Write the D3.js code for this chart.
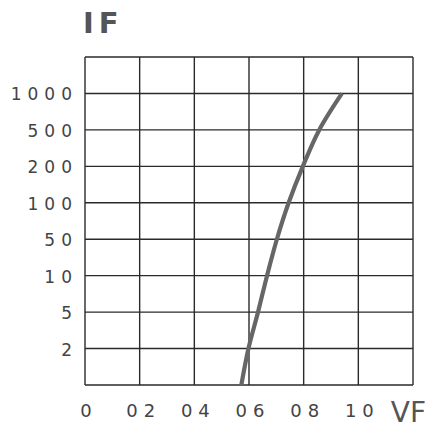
<!DOCTYPE html>
<html>
<head>
<meta charset="utf-8">
<script src="https://cdn.jsdelivr.net/npm/d3@7"></script>
<style>
	body { margin: 0; background: #fff; }
	text { font-family: "DejaVu Sans", sans-serif; }
</style>
</head>
<body>
<div id="chart"></div>
<script>
"use strict";

// forward current IF (rows of the grid, top to bottom; 1 = bottom edge, unlabeled)
var ifRows = [1000, 500, 200, 100, 50, 10, 5, 2, 1];
var ifLabels = ["1000", "500", "200", "100", "50", "10", "5", "2"];

// forward voltage VF ticks
var vfTicks = [0, 0.2, 0.4, 0.6, 0.8, 1.0];
var vfLabels = ["0", "02", "04", "06", "08", "10"];

// the curve (top to bottom)
var curveIF = [1000, 500, 200, 100, 50, 10, 5, 2, 1];
var curveVF = [0.94, 0.857, 0.797, 0.745, 0.702, 0.666, 0.633, 0.598, 0.572];

var width = 429, height = 429;
var grid_color = "#2a2a2a";
var label_color = "#444";
var curve_color = "#666";

var svg = d3.select("#chart").append("svg")
	.attr("width", width).attr("height", height);

var x = d3.scaleLinear().domain([0, 1.2]).range([85, 413]);
// row 0 is the top edge, row i+1 is ifRows[i]
var row = d3.scaleLinear().domain([0, ifRows.length]).range([57, 385]);
function y_of(v){ return row(ifRows.indexOf(v) + 1); }

// vertical grid lines
svg.append("g").selectAll("line")
	.data(d3.range(0, 1.2001, 0.2))
	.enter().append("line")
	.attr("x1", function(d){ return x(d); })
	.attr("x2", function(d){ return x(d); })
	.attr("y1", row(0)).attr("y2", row(ifRows.length))
	.attr("stroke", grid_color).attr("stroke-width", 1.4);

// horizontal grid lines
svg.append("g").selectAll("line")
	.data(d3.range(0, ifRows.length + 1))
	.enter().append("line")
	.attr("x1", x(0)).attr("x2", x(1.2))
	.attr("y1", function(d){ return row(d); })
	.attr("y2", function(d){ return row(d); })
	.attr("stroke", grid_color).attr("stroke-width", 1.4);

// y labels
svg.append("g").selectAll("text")
	.data(ifLabels)
	.enter().append("text")
	.attr("x", 72 + 6)
	.attr("y", function(d){ return y_of(+d) + 7; })
	.attr("text-anchor", "end")
	.attr("font-size", 17)
	.attr("letter-spacing", 6)
	.attr("fill", label_color)
	.text(function(d){ return d; });

// x labels
svg.append("g").selectAll("text")
	.data(vfTicks)
	.enter().append("text")
	.attr("x", function(d){ return x(d) + 4; })
	.attr("y", 417)
	.attr("text-anchor", "middle")
	.attr("font-size", 18)
	.attr("letter-spacing", 6)
	.attr("fill", label_color)
	.text(function(d, i){ return vfLabels[i]; });

// axis titles
svg.append("text")
	.attr("x", 83).attr("y", 33)
	.attr("font-size", 29)
	.attr("font-weight", "bold")
	.attr("letter-spacing", 5)
	.attr("fill", "#555")
	.text("IF");

svg.append("text")
	.attr("x", 426).attr("y", 422)
	.attr("text-anchor", "end")
	.attr("font-size", 28)
	.attr("fill", "#555")
	.text("VF");

// the curve
var pts = curveIF.map(function(v, i){ return [curveVF[i], v]; });
var line = d3.line()
	.x(function(d){ return x(d[0]); })
	.y(function(d){ return y_of(d[1]); })
	.curve(d3.curveMonotoneY);

svg.append("path")
	.datum(pts)
	.attr("d", line)
	.attr("fill", "none")
	.attr("stroke", curve_color)
	.attr("stroke-width", 4.2);
</script>
</body>
</html>
